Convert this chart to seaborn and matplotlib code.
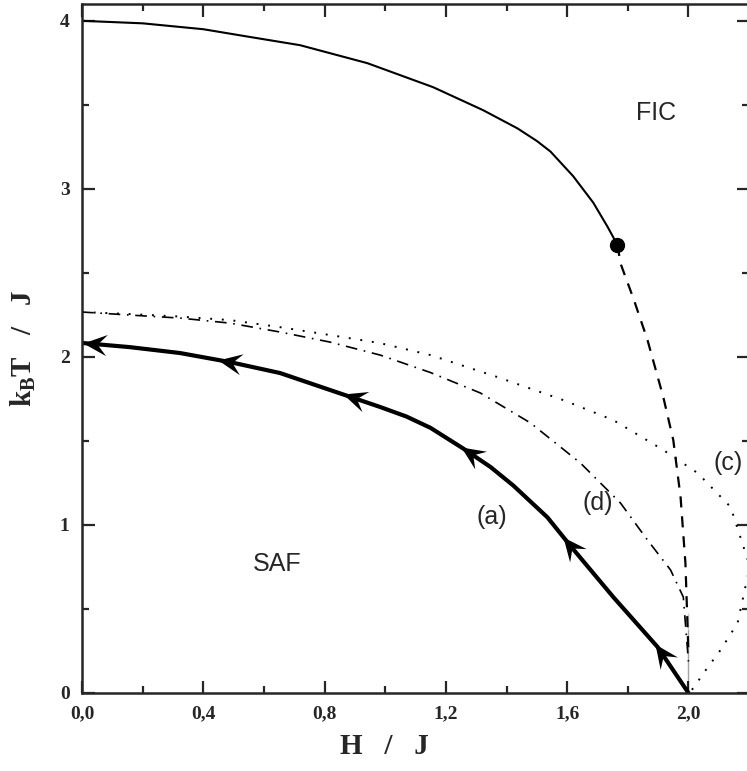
import numpy as np
import matplotlib
matplotlib.use("Agg")
import matplotlib.pyplot as plt
import seaborn as sns
from matplotlib.path import Path
from matplotlib.ticker import MultipleLocator, FixedLocator, FixedFormatter

# ---- data ----
# upper solid line (second-order transition), ends at the tricritical point
h_upper = [0.0, 0.2, 0.4, 0.55, 0.719, 0.941, 1.158, 1.323, 1.436, 1.50, 1.545, 1.62, 1.686, 1.733, 1.766]
t_upper = [4.0, 3.985, 3.95, 3.905, 3.855, 3.748, 3.605, 3.468, 3.36, 3.285, 3.222, 3.075, 2.918, 2.775, 2.666]

# dashed first-order line from the tricritical point down to H/J = 2
h_dashed = [1.766, 1.776, 1.82, 1.865, 1.917, 1.95, 1.974, 1.99, 2.0, 2.0]
t_dashed = [2.666, 2.556, 2.34, 2.10, 1.761, 1.505, 1.166, 0.773, 0.476, 0.0]

# curve (a): thick line with arrows
h_a = [0.0, 0.158, 0.323, 0.488, 0.653, 0.818, 0.983, 1.07, 1.149, 1.257, 1.347, 1.422,
       1.535, 1.611, 1.752, 1.898, 2.0]
t_a = [2.083, 2.058, 2.023, 1.969, 1.904, 1.803, 1.702, 1.645, 1.578, 1.455, 1.345, 1.235,
       1.045, 0.875, 0.571, 0.274, 0.0]
arrow_h = [0.003, 0.449, 0.861, 1.25, 1.587, 1.89]

# curve (d): dash-dot
h_d = [0.0, 0.158, 0.323, 0.488, 0.653, 0.818, 0.983, 1.149, 1.314, 1.479, 1.644,
       1.776, 1.865, 1.941, 1.983, 2.0, 2.0]
t_d = [2.267, 2.249, 2.231, 2.201, 2.148, 2.088, 2.011, 1.907, 1.785, 1.607, 1.368,
       1.130, 0.910, 0.732, 0.571, 0.375, 0.0]

# curve (c): dotted, turns back toward H/J = 2
h_c = [0.0, 0.158, 0.323, 0.488, 0.653, 0.818, 0.983, 1.149, 1.37, 1.587, 1.752, 1.917,
       2.03, 2.139, 2.195, 2.208, 2.195, 2.162, 2.106, 2.05, 2.017, 2.0]
t_c = [2.267, 2.255, 2.24, 2.219, 2.177, 2.130, 2.082, 2.011, 1.880, 1.743, 1.624, 1.446,
       1.309, 1.107, 0.970, 0.80, 0.62, 0.416, 0.256, 0.119, 0.03, 0.0]

sns.set_style("ticks")
plt.rcParams["mathtext.fontset"] = "custom"
plt.rcParams["mathtext.bf"] = "Liberation Serif:bold"
plt.rcParams["mathtext.rm"] = "Liberation Serif:bold"
plt.rcParams["mathtext.default"] = "bf"

fig = plt.figure(figsize=(7.47, 7.71), dpi=100)
ax = fig.add_axes([0.1098, 0.1012, 0.893, 0.8936])
ax.set_xlim(0, 2.2)
ax.set_ylim(0, 4.1)

sns.lineplot(x=h_upper, y=t_upper, sort=False, color="black", lw=1.5, ax=ax)
sns.lineplot(x=h_dashed, y=t_dashed, sort=False, color="black", lw=1.6,
             linestyle=(0, (5, 4)), ax=ax)
sns.lineplot(x=h_a, y=t_a, sort=False, color="black", lw=3.0, ax=ax)
sns.lineplot(x=h_d, y=t_d, sort=False, color="black", lw=1.2,
             linestyle=(0, (7, 4, 1, 4)), ax=ax)
sns.lineplot(x=h_c, y=t_c, sort=False, color="black", lw=1.4,
             linestyle=(0, (1, 5)), ax=ax)
ax.plot(h_upper[-1], t_upper[-1], "o", color="black", ms=10, zorder=5)

# swept-back arrowheads along curve (a), pointing toward lower field
head = np.array([[0.0, 0.0], [-1.0, 0.45], [-0.6, 0.0], [-1.0, -0.45], [0.0, 0.0]])
codes = [Path.MOVETO, Path.LINETO, Path.LINETO, Path.LINETO, Path.CLOSEPOLY]
for h in arrow_h:
    tip = ax.transData.transform((h, np.interp(h, h_a, t_a)))
    tail = ax.transData.transform((h + 0.03, np.interp(h + 0.03, h_a, t_a)))
    ang = np.arctan2(tip[1] - tail[1], tip[0] - tail[0])
    rot = np.array([[np.cos(ang), -np.sin(ang)], [np.sin(ang), np.cos(ang)]])
    verts = head @ rot.T
    scale = np.abs(verts).max()
    ax.plot(h, np.interp(h, h_a, t_a), marker=Path(verts, codes), ms=34 * scale,
            color="black", mew=0, zorder=6, clip_on=False)

lab = dict(fontsize=18, family="Liberation Sans")
ax.text(1.894, 3.45, "FIC", ha="center", va="center", **lab)
ax.text(0.645, 0.77, "SAF", ha="center", va="center", **lab)
ax.text(1.35, 1.05, "(a)", ha="center", va="center", **lab)
ax.text(1.70, 1.13, "(d)", ha="center", va="center", **lab)
ax.text(2.13, 1.37, "(c)", ha="center", va="center", **lab)

xt = [0.0, 0.4, 0.8, 1.2, 1.6, 2.0]
ax.xaxis.set_major_locator(FixedLocator(xt))
ax.xaxis.set_major_formatter(FixedFormatter([f"{v:.1f}".replace(".", ",") for v in xt]))
ax.xaxis.set_minor_locator(MultipleLocator(0.2))
ax.yaxis.set_major_locator(MultipleLocator(1))
ax.yaxis.set_minor_locator(MultipleLocator(0.5))

ax.tick_params(which="both", direction="in", top=True, right=True, width=1.6,
               labelsize=14)
ax.tick_params(which="major", length=9, pad=9)
ax.tick_params(which="minor", length=5)
for lbl in ax.get_xticklabels() + ax.get_yticklabels():
    lbl.set_family("Liberation Serif")
    lbl.set_fontweight("bold")
for sp in ax.spines.values():
    sp.set_linewidth(1.8)
    sp.set_visible(True)

ax.set_xlabel("H   /   J", fontsize=21, family="Liberation Serif", fontweight="bold")
ax.set_ylabel("k$_{B}$T   /   J", fontsize=21, family="Liberation Serif", fontweight="bold")
ax.xaxis.set_label_coords(0.454, -0.058)
ax.yaxis.set_label_coords(-0.066, 0.5)

fig.savefig("out.png", dpi=100)
